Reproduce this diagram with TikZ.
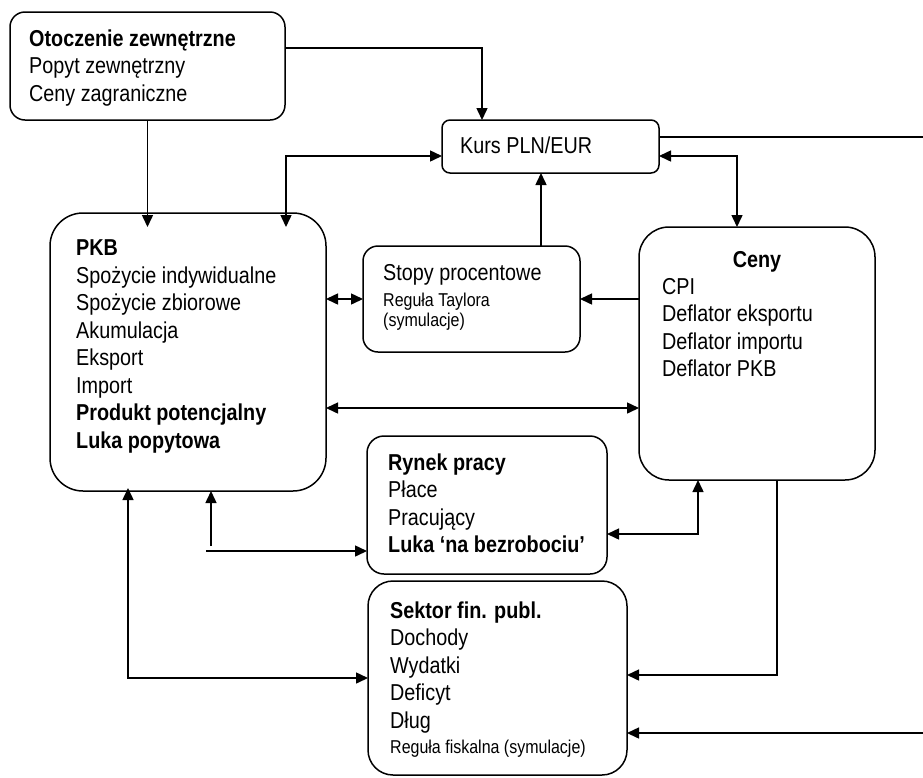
\documentclass[tikz,border=0pt]{standalone}
\usepackage{fontspec}
\setmainfont{Liberation Sans}[FakeStretch=0.86]
\usetikzlibrary{arrows.meta}
% strut giving every first line the same top
\newcommand\toplineA{\rule{0pt}{18pt}}
\newcommand\toplineB{\rule{0pt}{15pt}}
\begin{document}
\begin{tikzpicture}[x=1pt,y=-1pt,
  box/.style={draw, rectangle, line width=1.5pt, inner sep=0pt, outer sep=0pt},
  conn/.style={line width=1.5pt},
  arr/.style={conn, -{Triangle[length=12pt,width=11pt]}},
  darr/.style={conn, {Triangle[length=12pt,width=11pt]}-{Triangle[length=12pt,width=11pt]}},
  txt/.style={anchor=north west, inner sep=0pt, align=left, font=\fontsize{23}{27.5}\selectfont},
  smalltxt/.style={anchor=north west, inner sep=0pt, align=left, font=\fontsize{18.6}{20}\selectfont},
]
\fill[white] (0,0) rectangle (923,777);
\useasboundingbox (0,0) rectangle (923,777);

% boxes
\node[box, minimum width=275pt, minimum height=108pt, rounded corners=15pt] (ot) at (147.5,66) {};
\node[box, minimum width=217pt, minimum height=53pt, rounded corners=8pt] (kurs) at (550.5,146.5) {};
\node[box, minimum width=276pt, minimum height=278pt, rounded corners=33pt] (pkb) at (188,352) {};
\node[box, minimum width=217pt, minimum height=106pt, rounded corners=15pt] (stopy) at (471.5,299) {};
\node[box, minimum width=236pt, minimum height=253pt, rounded corners=30pt] (ceny) at (757,353.5) {};
\node[box, minimum width=240pt, minimum height=138pt, rounded corners=17pt] (rynek) at (487,505) {};
\node[box, minimum width=259pt, minimum height=194pt, rounded corners=25pt] (sektor) at (497.5,678) {};

% texts
\node[txt] (otT) at (29,28) {\toplineA\textbf{Otoczenie zewnętrzne}\\Popyt zewnętrzny\\Ceny zagraniczne};
\node[anchor=base west, inner sep=0pt, font=\fontsize{23}{27.5}\selectfont] (kursT) at (460,153) {Kurs PLN/EUR};
\node[txt] (pkbT) at (76,237.5) {\toplineA\textbf{PKB}\\Spożycie indywidualne\\Spożycie zbiorowe\\Akumulacja\\Eksport\\Import\\\textbf{Produkt potencjalny}\\\textbf{Luka popytowa}};
\node[txt] (stopyT) at (383,262) {\toplineA Stopy procentowe};
\node[smalltxt] (stopyS) at (383,291) {\toplineB Reguła Taylora\\(symulacje)};
\node[anchor=base, inner sep=0pt, font=\fontsize{23}{27.5}\selectfont\bfseries] (cenyH) at (757,267) {Ceny};
\node[txt] (cenyT) at (662,276) {\toplineA CPI\\Deflator eksportu\\Deflator importu\\Deflator PKB};
\node[txt] (rynekT) at (388,452) {\toplineA\textbf{Rynek pracy}\\Płace\\Pracujący\\\textbf{Luka ‘na bezrobociu’}};
\node[txt] (sektorT) at (390,600) {\toplineA\textbf{Sektor fin. publ.}\\Dochody\\Wydatki\\Deficyt\\Dług};
\node[smalltxt] (sektorS) at (390,738) {\toplineB Reguła fiskalna (symulacje)};

% free ends of connectors
\coordinate (edgeA) at (923,137);
\coordinate (edgeB) at (923,733);
\coordinate (gapV) at (211,546);
\coordinate (gapH) at (206,551);

% connectors
\draw[arr] ([yshift=18pt]ot.east) -| ([xshift=-68.5pt]kurs.north);
\draw[arr, shorten >=-14pt] (ot.south) -- (ot.south |- pkb.north);
\draw[darr, shorten <=-14pt] ([xshift=98pt]pkb.north) |- ([yshift=-9.5pt]kurs.west);
\draw[conn] ([yshift=9.5pt]kurs.east) -- (edgeA);
\draw[darr] ([yshift=-9.5pt]kurs.east) -| ([xshift=-20pt]ceny.north);
\draw[arr] ([xshift=69.5pt]stopy.north) -- ([xshift=69.5pt]stopy.north |- kurs.south);
\draw[arr] (ceny.west |- stopy.east) -- (stopy.east);
\draw[darr] (pkb.east |- stopy.west) -- (stopy.west);
\draw[darr] ([yshift=-56pt]pkb.east) -- ([yshift=-56pt]pkb.east -| ceny.west);
\draw[darr] ([yshift=-29pt]rynek.east) -| ([xshift=-59pt]ceny.south);
\draw[arr] ([xshift=20pt]ceny.south) |- ([yshift=3pt]sektor.east);
\draw[arr] (edgeB) -- (edgeB -| sektor.east);
\draw[darr, shorten <=-3pt] ([xshift=-60pt]pkb.south) |- (sektor.west);
\draw[arr] (gapV) -- (gapV |- pkb.south);
\draw[arr] (gapH) -- (gapH -| rynek.west);
\end{tikzpicture}
\end{document}
